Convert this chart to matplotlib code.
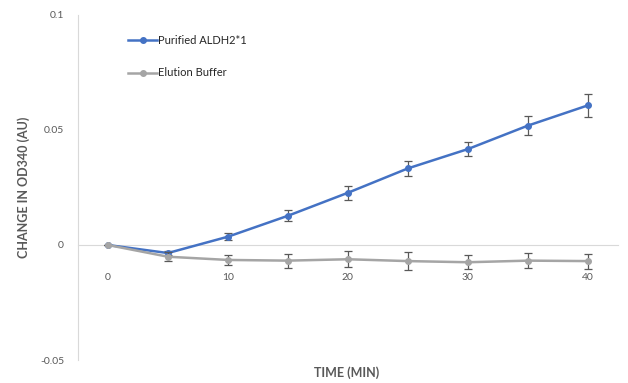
import numpy as np
import matplotlib.pyplot as plt
from matplotlib.lines import Line2D

plt.rcParams['font.family'] = ['Lato', 'DejaVu Sans']

time = [0, 5, 10, 15, 20, 25, 30, 35, 40]
aldh = [0, -0.0035, 0.0036, 0.0127, 0.0227, 0.0333, 0.0417, 0.0519, 0.0607]
aldh_err = [0, 0.001, 0.0015, 0.0023, 0.003, 0.0033, 0.003, 0.004, 0.005]
buffer = [0, -0.0051, -0.0065, -0.0068, -0.0062, -0.007, -0.0075, -0.0068, -0.007]
buffer_err = [0, 0.002, 0.0022, 0.003, 0.0034, 0.0038, 0.003, 0.0033, 0.0033]
xticks = [0, 10, 20, 30, 40]
yticks = [-0.05, 0, 0.05, 0.1]
ytick_labels = ['-0.05', '0', '0.05', '0.1']

fig = plt.figure(figsize=(6.28, 3.83), dpi=100)
ax = fig.add_axes([0.124, 0.060, 0.860, 0.901])

ax.errorbar(time, aldh, yerr=aldh_err, color='#4472C4', lw=1.8, marker='o', ms=4,
            ecolor='#595959', elinewidth=0.9, capsize=3, capthick=0.9, zorder=3)
ax.errorbar(time, buffer, yerr=buffer_err, color='#A5A5A5', lw=1.8, marker='o', ms=4,
            ecolor='#595959', elinewidth=0.9, capsize=3, capthick=0.9, zorder=4)

ax.set_xlim(-2.5, 42.5)
ax.set_ylim(-0.05, 0.1)
ax.set_xticks(xticks)
ax.set_yticks(yticks)
ax.set_yticklabels(ytick_labels)

for s in ['top', 'right']:
    ax.spines[s].set_visible(False)
ax.spines['bottom'].set_position(('data', 0))
ax.spines['bottom'].set_color('#D9D9D9')
ax.spines['left'].set_color('#D9D9D9')
ax.tick_params(axis='both', length=0, labelsize=7.5, colors='#595959')
ax.tick_params(axis='x', pad=20)
ax.tick_params(axis='y', pad=10)

handles = [Line2D([], [], color='#4472C4', lw=1.8, marker='o', ms=4),
           Line2D([], [], color='#A5A5A5', lw=1.8, marker='o', ms=4)]
leg = ax.legend(handles, ['Purified ALDH2*1', 'Elution Buffer'], loc='upper left',
                bbox_to_anchor=(0.075, 0.97), frameon=False,
                fontsize=8, handlelength=2.6, handletextpad=0.1,
                labelspacing=1.9)
for t in leg.get_texts():
    t.set_color('#262626')

fig.text(24 / 628, 1 - 187 / 383, 'CHANGE IN OD340 (AU)', rotation=90,
         ha='center', va='center', fontsize=9, fontweight='bold', color='#595959')
fig.text(347 / 628, 1 - 373 / 383, 'TIME (MIN)', ha='center', va='center',
         fontsize=9, fontweight='bold', color='#595959')

fig.savefig('out.png', dpi=100)
